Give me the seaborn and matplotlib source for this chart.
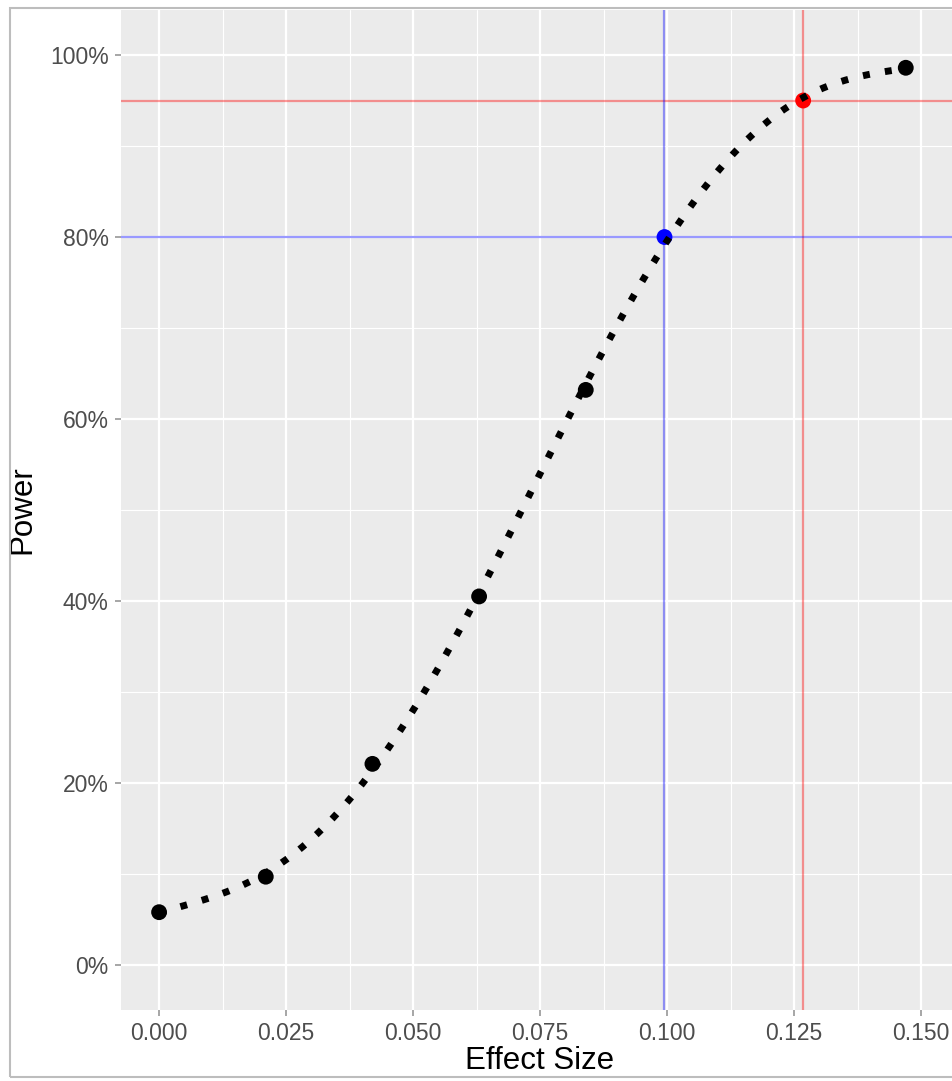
import matplotlib
matplotlib.use("Agg")
import matplotlib.pyplot as plt
from matplotlib.patches import Rectangle
from matplotlib.ticker import FixedLocator
import seaborn as sns
import pandas as pd

# ---- data ----
effect_size = [0.000, 0.021, 0.042, 0.063, 0.084, 0.147]
power = [0.058, 0.097, 0.221, 0.405, 0.632, 0.986]
power80_effect = [0.0995]
power80_value = [0.80]
power95_effect = [0.1268]
power95_value = [0.95]
x_ticks = [0.000, 0.025, 0.050, 0.075, 0.100, 0.125, 0.150]
x_tick_labels = ["0.000", "0.025", "0.050", "0.075", "0.100", "0.125", "0.150"]
y_ticks = [0.0, 0.2, 0.4, 0.6, 0.8, 1.0]
y_tick_labels = ["0%", "20%", "40%", "60%", "80%", "100%"]

curve_df = pd.DataFrame({
    "effect": effect_size + power80_effect + power95_effect,
    "power": power + power80_value + power95_value,
}).sort_values("effect")
points_df = pd.DataFrame({"effect": effect_size, "power": power})

sns.set_theme(style="darkgrid")
plt.rcParams["font.family"] = ["Liberation Sans", "DejaVu Sans"]

W, H = 952, 1081
fig = plt.figure(figsize=(W / 100, H / 100), dpi=100)
left_px, right_px, top_px, bottom_px = 121, 959, 10, 1010
ax = fig.add_axes([left_px / W, (H - bottom_px) / H,
                   (right_px - left_px) / W, (bottom_px - top_px) / H])
ax.set_facecolor("#EBEBEB")
for s in ax.spines.values():
    s.set_visible(False)

# reference lines
ax.axhline(power95_value[0], color="red", alpha=0.4, lw=1.6, zorder=2)
ax.axvline(power95_effect[0], color="red", alpha=0.4, lw=1.6, zorder=2)
ax.axhline(power80_value[0], color="blue", alpha=0.4, lw=1.6, zorder=2)
ax.axvline(power80_effect[0], color="blue", alpha=0.4, lw=1.6, zorder=2)

# points
sns.scatterplot(data=points_df, x="effect", y="power", color="black", s=130,
                edgecolor="none", ax=ax, zorder=3)
sns.scatterplot(x=power80_effect, y=power80_value, color="blue", s=130,
                edgecolor="none", ax=ax, zorder=3)
sns.scatterplot(x=power95_effect, y=power95_value, color="red", s=130,
                edgecolor="none", ax=ax, zorder=3)

# smooth dotted curve
sns.regplot(data=curve_df, x="effect", y="power", order=5, ci=None,
            scatter=False, ax=ax,
            line_kws={"color": "black", "lw": 5, "ls": (0, (1, 2.2)),
                      "dash_capstyle": "butt", "zorder": 4})

ax.set_xlim(-0.0075, (right_px - 159) / 5080)
ax.set_ylim(-0.0495, 1.0495)

ax.xaxis.set_major_locator(FixedLocator(x_ticks))
ax.set_xticklabels(x_tick_labels)
ax.yaxis.set_major_locator(FixedLocator(y_ticks))
ax.set_yticklabels(y_tick_labels)
ax.xaxis.set_minor_locator(FixedLocator([0.0125 + 0.025 * i for i in range(-1, 7)]))
ax.yaxis.set_minor_locator(FixedLocator([0.1 + 0.2 * i for i in range(5)]))

ax.grid(which="major", color="white", lw=1.6)
ax.grid(which="minor", color="white", lw=0.8)
ax.set_axisbelow(True)

ax.tick_params(which="major", length=4.5, width=1.4, color="#A6A6A6",
               labelsize=16.5, labelcolor="#4D4D4D", pad=4.5,
               bottom=True, left=True)
ax.tick_params(which="minor", length=0)

ax.set_xlabel("Effect Size", fontsize=22.5, color="black")
ax.set_ylabel("Power", fontsize=22.5, color="black")
ax.xaxis.set_label_coords(0.5, -0.036)
ax.yaxis.set_label_coords(-0.1, 0.5)

# outer border (right side lies beyond the crop)
fig.patches.append(Rectangle((10 / W, (H - 1077) / H), 1.2, (1077 - 8) / H,
                             transform=fig.transFigure, fill=False,
                             edgecolor="#BDBDBD", lw=1.5, clip_on=False))

fig.savefig("out.png", dpi=100)
